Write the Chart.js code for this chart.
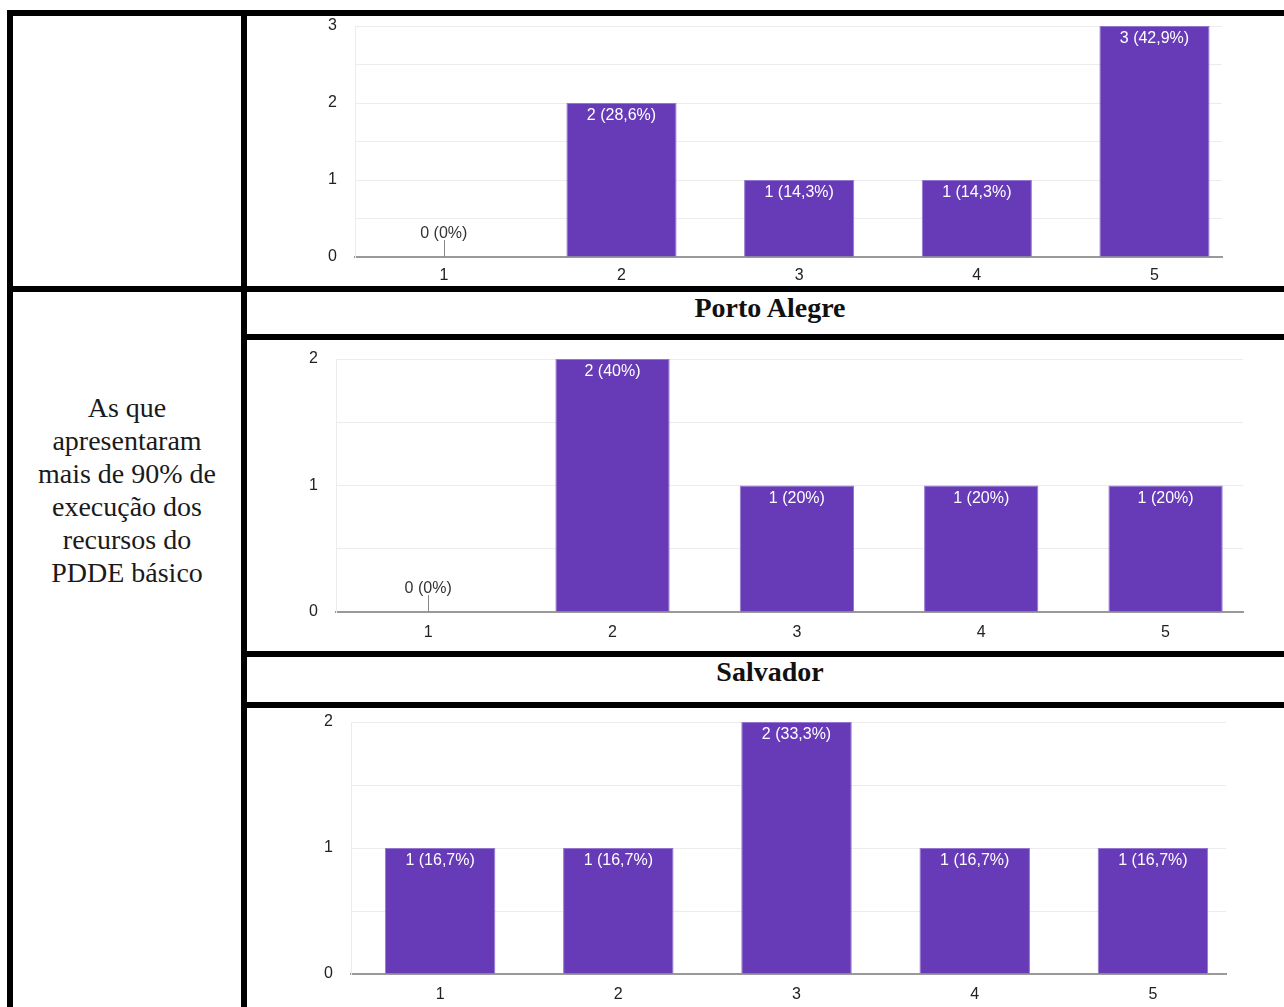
<!DOCTYPE html>
<html>
<head>
<meta charset="utf-8">
<script src="https://cdn.jsdelivr.net/npm/chart.js@4"></script>
<style>
body { margin: 0; width: 1284px; height: 1007px; overflow: hidden; background: #fff; position: relative; }
.b { position: absolute; background: #000; z-index: 2; }
canvas { position: absolute; left: 250px; }
.t { position: absolute; font-family: "Liberation Serif", "Times New Roman", serif; color: #1a1a1a; text-align: center; white-space: nowrap; }
.h { font-weight: bold; font-size: 28px; height: 42px; line-height: 42px; left: 247px; width: 1046px; color: #111; }
</style>
</head>
<body>

<div class="b" style="left:7px;top:10px;width:1277px;height:6px"></div>
<div class="b" style="left:7px;top:10px;width:6px;height:997px"></div>
<div class="b" style="left:241px;top:10px;width:6px;height:997px"></div>
<div class="b" style="left:7px;top:286px;width:1277px;height:6px"></div>
<div class="b" style="left:241px;top:334px;width:1043px;height:6px"></div>
<div class="b" style="left:241px;top:651px;width:1043px;height:6px"></div>
<div class="b" style="left:241px;top:702px;width:1043px;height:6px"></div>

<div class="t" style="left:13px;width:228px;top:391px;font-size:28px;line-height:33px">
As que<br>apresentaram<br>mais de 90% de<br>execução dos<br>recursos do<br>PDDE básico
</div>
<div class="t h" style="top:287px">Porto Alegre</div>
<div class="t h" style="top:651px">Salvador</div>

<canvas id="chartTop" width="1030" height="269" style="top:16px"></canvas>
<canvas id="chartPorto" width="1030" height="311" style="top:340px"></canvas>
<canvas id="chartSalvador" width="1030" height="299" style="top:708px"></canvas>

<script>
var categories = ["1", "2", "3", "4", "5"];
var valuesTop = [0, 2, 1, 1, 3];
var valuesPorto = [0, 2, 1, 1, 1];
var valuesSalvador = [1, 1, 2, 1, 1];
var yTicksTop = [0, 1, 2, 3];
var yTicksSmall = [0, 1, 2];

function pct(v, total) {
  var s = (v / total * 100).toFixed(1);
  if (s.slice(-2) === '.0') s = s.slice(0, -2);
  return s.replace('.', ',') + '%';
}

// value labels like Google Forms: white inside the bar, grey with a stem for zero
var barLabels = {
  id: 'barLabels',
  afterDatasetsDraw: function(chart) {
    var ctx = chart.ctx;
    var meta = chart.getDatasetMeta(0);
    var data = chart.data.datasets[0].data;
    var total = data.reduce(function(a, d) { return a + d.y; }, 0);
    ctx.save();
    ctx.font = '16px "Liberation Sans", Arial, sans-serif';
    ctx.textAlign = 'center';
    ctx.textBaseline = 'middle';
    meta.data.forEach(function(bar, i) {
      var v = data[i].y;
      var txt = v + ' (' + pct(v, total) + ')';
      if (v > 0) {
        ctx.fillStyle = '#ffffff';
        ctx.fillText(txt, bar.x, bar.y + 13);
      } else {
        ctx.strokeStyle = '#888';
        ctx.lineWidth = 1;
        ctx.beginPath();
        ctx.moveTo(Math.round(bar.x) + 0.5, bar.base - 17);
        ctx.lineTo(Math.round(bar.x) + 0.5, bar.base);
        ctx.stroke();
        ctx.fillStyle = '#333';
        ctx.fillText(txt, bar.x, bar.base - 23);
      }
    });
    ctx.restore();
  }
};

function makeChart(id, values, yTicks, box) {
  var ctx = document.getElementById(id).getContext('2d');
  return new Chart(ctx, {
    type: 'bar',
    data: {
      datasets: [{
        data: categories.map(function(c, i) { return { x: Number(c), y: values[i] }; }),
        backgroundColor: '#673ab7',
        borderColor: '#9276cf',
        borderWidth: 1,
        categoryPercentage: 0.62,
        barPercentage: 1
      }]
    },
    options: {
      responsive: false,
      animation: false,
      layout: { padding: { top: box.top, right: box.right, left: 0, bottom: 0 } },
      plugins: { legend: { display: false }, tooltip: { enabled: false } },
      scales: {
        x: {
          type: 'linear',
          offset: false,
          min: box.xMin,
          max: box.xMax,
          afterBuildTicks: function(s) {
            s.ticks = categories.map(function(c) { return { value: Number(c) }; });
          },
          afterFit: function(s) {
            s.height = box.xHeight;
            s.paddingLeft = 0;
            s.paddingRight = 0;
          },
          grid: { display: false, drawTicks: false },
          border: { display: true, color: '#999', width: 2 },
          ticks: {
            padding: box.xPad,
            maxRotation: 0,
            color: '#222',
            font: { family: '"Liberation Sans", Arial, sans-serif', size: 16 },
            callback: function(v) { return categories[v - 1]; }
          }
        },
        y: {
          min: 0,
          max: yTicks[yTicks.length - 1],
          afterFit: function(s) {
            s.width = box.left;
            s.paddingTop = 0;
            s.paddingBottom = 0;
          },
          grid: {
            drawTicks: false,
            color: function(c) { return c.tick && c.tick.value === 0 ? 'rgba(0,0,0,0)' : '#ececec'; }
          },
          border: { display: true, color: '#ececec', width: 1 },
          ticks: {
            stepSize: 0.5,
            padding: 18,
            color: '#222',
            font: { family: '"Liberation Sans", Arial, sans-serif', size: 16 },
            callback: function(v) { return yTicks.indexOf(v) >= 0 ? String(v) : ''; }
          }
        }
      }
    },
    plugins: [barLabels]
  });
}

makeChart('chartTop', valuesTop, yTicksTop,
  { left: 105, right: 58, top: 10, xHeight: 28, xPad: 9, xMin: 0.5, xMax: 5.38 });
makeChart('chartPorto', valuesPorto, yTicksSmall,
  { left: 86, right: 37, top: 19, xHeight: 39, xPad: 11, xMin: 0.5, xMax: 5.42 });
makeChart('chartSalvador', valuesSalvador, yTicksSmall,
  { left: 101, right: 54, top: 14, xHeight: 33, xPad: 11, xMin: 0.5, xMax: 5.41 });
</script>
</body>
</html>
